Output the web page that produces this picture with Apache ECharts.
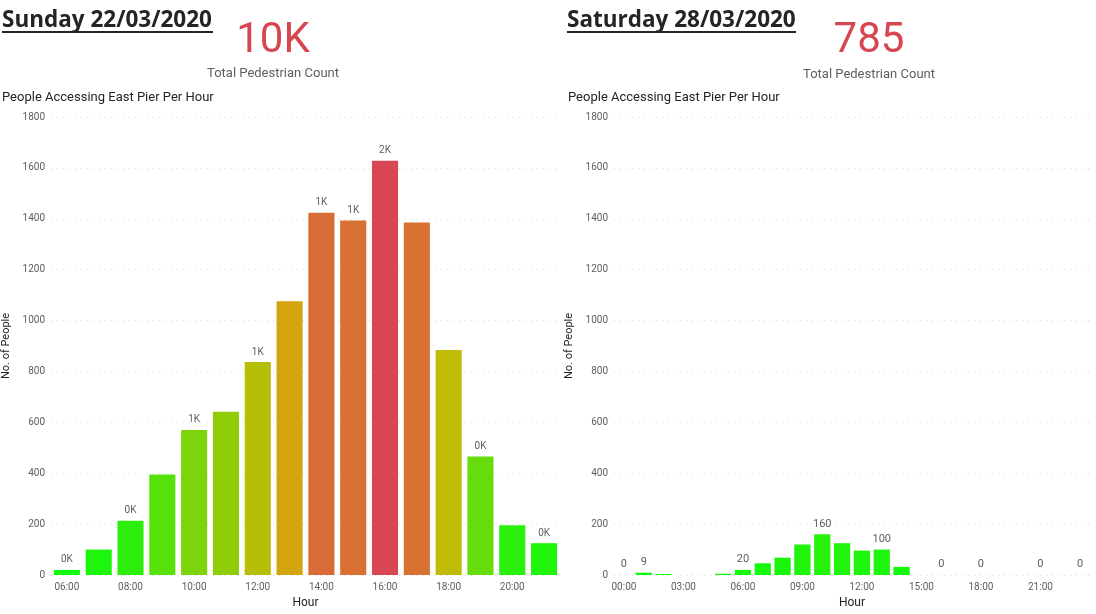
<!DOCTYPE html>
<html>
<head>
<meta charset="utf-8">
<script src="https://cdn.jsdelivr.net/npm/echarts@6/dist/echarts.min.js"></script>
<style>
  html, body { margin: 0; padding: 0; background: #fff; }
  #chart { width: 1096px; height: 614px; }
</style>
</head>
<body>
<div id="chart"></div>
<script>
// Sunday 22/03/2020, 06:00 - 21:00
var sunHours = ['06:00','07:00','08:00','09:00','10:00','11:00','12:00','13:00',
                '14:00','15:00','16:00','17:00','18:00','19:00','20:00','21:00'];
var sunCounts = [20, 100, 213, 395, 570, 642, 837, 1076, 1424, 1393, 1628, 1385, 884, 466, 196, 125];
var sunLabelled = ['06:00','08:00','10:00','12:00','14:00','15:00','16:00','19:00','21:00'];

// Saturday 28/03/2020, 00:00 - 23:00
var satHours = ['00:00','01:00','02:00','03:00','04:00','05:00','06:00','07:00',
                '08:00','09:00','10:00','11:00','12:00','13:00','14:00','15:00',
                '16:00','17:00','18:00','19:00','20:00','21:00','22:00','23:00'];
var satCounts = [0, 9, 4, 0, 0, 5, 20, 46, 68, 120, 160, 125, 96, 100, 32, 0,
                 0, 0, 0, 0, 0, 0, 0, 0];
var satLabelled = ['00:00','01:00','06:00','10:00','13:00','16:00','18:00','21:00','23:00'];

var yTicks = { min: 0, max: 1800, interval: 200 };

var chart = echarts.init(document.getElementById('chart'));

var fontMain = 'Roboto, "Open Sans", sans-serif';
var fontHead = '"Open Sans", "Noto Sans", sans-serif';

function xAxisFor(idx, cats, every) {
    return {
        type: 'category',
        gridIndex: idx,
        data: cats,
        name: 'Hour',
        nameLocation: 'middle',
        nameGap: 22,
        nameTextStyle: { color: '#252423', fontSize: 12, fontFamily: fontMain },
        axisLine: { show: false },
        axisTick: { show: false },
        axisLabel: { interval: every, color: '#605e5c', fontSize: 10, fontFamily: fontMain, margin: 7 }
    };
}

function yAxisFor(idx) {
    return {
        type: 'value',
        gridIndex: idx,
        min: yTicks.min,
        max: yTicks.max,
        interval: yTicks.interval,
        name: 'No. of People',
        nameLocation: 'middle',
        nameGap: 39,
        nameTextStyle: { color: '#252423', fontSize: 11, fontFamily: fontMain },
        axisLine: { show: false },
        axisTick: { show: false },
        axisLabel: {
            color: '#605e5c', fontSize: 10, fontFamily: fontMain, margin: 6,
            formatter: function (v) { return String(v); }
        },
        splitLine: { lineStyle: { color: '#d9d9d9', type: [1, 5], width: 1 } }
    };
}

var option = {
    animation: false,
    grid: [
        { left: 47, top: 117, width: 513, height: 460 },
        { left: 614, top: 117, width: 476, height: 460 }
    ],
    xAxis: [xAxisFor(0, sunHours, 1), xAxisFor(1, satHours, 2)],
    yAxis: [yAxisFor(0), yAxisFor(1)],
    visualMap: {
        show: false,
        type: 'continuous',
        seriesIndex: [0, 1],
        min: 0,
        max: 1628,
        inRange: {
            color: ['#10fa0c', '#30ee0b', '#66dd0a', '#9cc809', '#c8b806', '#d89a10', '#d87032', '#d74652']
        }
    },
    series: [
        {
            type: 'bar',
            xAxisIndex: 0,
            yAxisIndex: 0,
            data: sunCounts,
            barCategoryGap: '18%',
            label: {
                show: true,
                position: 'top',
                distance: 5,
                color: '#605e5c',
                fontSize: 10,
                fontFamily: fontMain,
                formatter: function (p) {
                    if (sunLabelled.indexOf(p.name) < 0) return '';
                    return Math.round(p.value / 1000) + 'K';
                }
            }
        },
        {
            type: 'bar',
            xAxisIndex: 1,
            yAxisIndex: 1,
            data: satCounts,
            barCategoryGap: '18%',
            label: {
                show: true,
                position: 'top',
                distance: 5,
                color: '#605e5c',
                fontSize: 11,
                fontFamily: fontMain,
                formatter: function (p) {
                    if (satLabelled.indexOf(p.name) < 0) return '';
                    return String(p.value);
                }
            }
        }
    ],
    graphic: [
        // left header
        { type: 'text', x: 2, y: 9, style: { text: 'Sunday 22/03/2020', font: 'bold 22.5px ' + fontHead, fill: '#252423' } },
        { type: 'rect', shape: { x: 2, y: 31, width: 211, height: 2 }, style: { fill: '#252423' } },
        { type: 'text', x: 273, y: 41, style: { text: '10K', font: '42px ' + fontMain, fill: '#d64550', align: 'center', verticalAlign: 'middle' } },
        { type: 'text', x: 273, y: 74, style: { text: 'Total Pedestrian Count', font: '13px ' + fontMain, fill: '#605e5c', align: 'center', verticalAlign: 'middle' } },
        { type: 'text', x: 2, y: 98, style: { text: 'People Accessing East Pier Per Hour', font: '13px ' + fontMain, fill: '#252423', verticalAlign: 'middle' } },
        // right header
        { type: 'text', x: 567, y: 9, style: { text: 'Saturday 28/03/2020', font: 'bold 22.5px ' + fontHead, fill: '#252423' } },
        { type: 'rect', shape: { x: 567, y: 31, width: 229, height: 2 }, style: { fill: '#252423' } },
        { type: 'text', x: 869, y: 41, style: { text: '785', font: '42px ' + fontMain, fill: '#d64550', align: 'center', verticalAlign: 'middle' } },
        { type: 'text', x: 869, y: 75, style: { text: 'Total Pedestrian Count', font: '13px ' + fontMain, fill: '#605e5c', align: 'center', verticalAlign: 'middle' } },
        { type: 'text', x: 568, y: 98, style: { text: 'People Accessing East Pier Per Hour', font: '13px ' + fontMain, fill: '#252423', verticalAlign: 'middle' } }
    ]
};

chart.setOption(option);
</script>
</body>
</html>
